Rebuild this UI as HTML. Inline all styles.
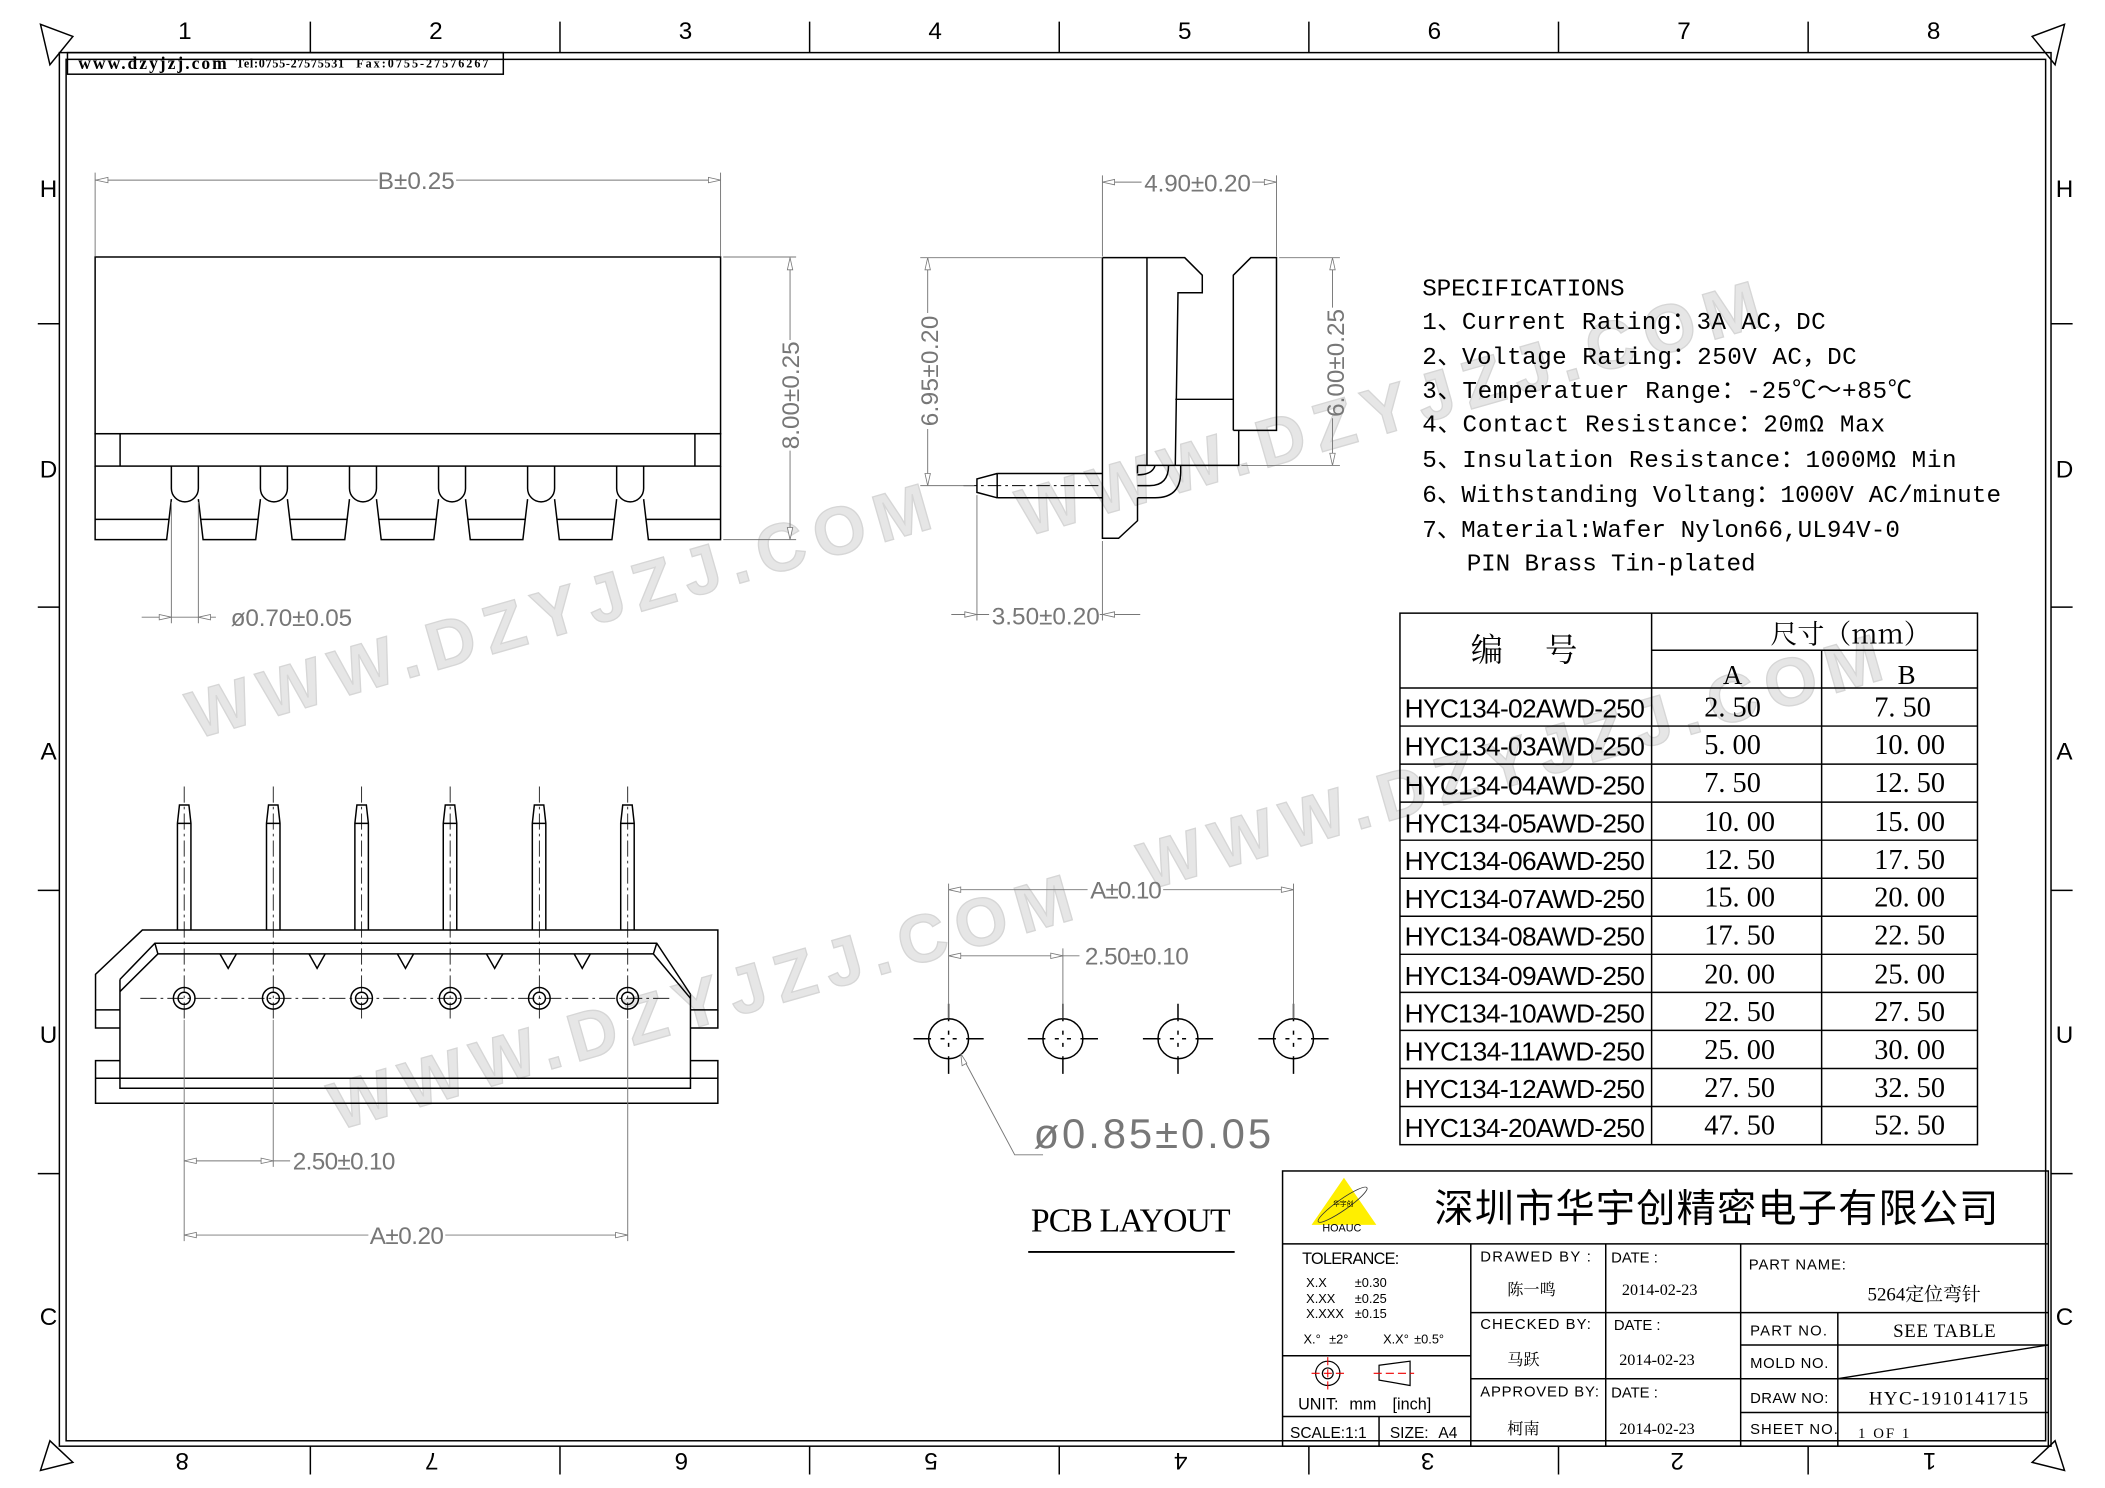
<!DOCTYPE html>
<html><head><meta charset="utf-8"><style>
html,body{margin:0;padding:0;background:#fff;}
svg{display:block;}
.k{stroke:#000;stroke-width:1.1;fill:none;}
.d{stroke:#777;stroke-width:0.7;fill:none;}
.dt{fill:#777;font-family:"Liberation Sans",sans-serif;font-size:18px;}
.ar{fill:#fff;stroke:#777;stroke-width:0.6;}
.r{font-family:"Liberation Sans",sans-serif;font-size:18px;fill:#000;}
.t{font-family:"Liberation Sans","Noto Sans CJK SC",sans-serif;font-size:11px;fill:#000;}
.s{font-family:"Liberation Serif","Noto Serif CJK SC",serif;font-size:12px;fill:#000;}
.wm{font-family:"Liberation Sans",sans-serif;font-weight:bold;font-size:50px;fill:#e6e6e6;stroke:#d6d6d6;stroke-width:1;letter-spacing:5px;}
</style></head><body>
<svg width="2105" height="1488" viewBox="0 0 1560 1103" preserveAspectRatio="none" xmlns="http://www.w3.org/2000/svg">
<rect width="1560" height="1103" fill="#fff"/>
<g>
<text class="wm" transform="translate(145,548) rotate(-16)" textLength="575">WWW.DZYJZJ.COM</text>
<text class="wm" transform="translate(250,838) rotate(-16)" textLength="575">WWW.DZYJZJ.COM</text>
<text class="wm" transform="translate(760,398) rotate(-16)" textLength="575">WWW.DZYJZJ.COM</text>
<text class="wm" transform="translate(850,660) rotate(-16)" textLength="575">WWW.DZYJZJ.COM</text>
</g>
<rect x="44" y="39" width="1476" height="1033" class="k" stroke-width="1.2"/>
<rect x="49" y="44" width="1467" height="1024" class="k" stroke-width="1.6"/>
<g class="r" text-anchor="middle">
<text x="137" y="29">1</text><text x="323" y="29">2</text><text x="508" y="29">3</text><text x="693" y="29">4</text><text x="878" y="29">5</text><text x="1063" y="29">6</text><text x="1248" y="29">7</text><text x="1433" y="29">8</text>
<text x="36" y="146">H</text><text x="36" y="354">D</text><text x="36" y="563">A</text><text x="36" y="773">U</text><text x="36" y="982">C</text>
<text x="1530" y="146">H</text><text x="1530" y="354">D</text><text x="1530" y="563">A</text><text x="1530" y="773">U</text><text x="1530" y="982">C</text>
<text transform="translate(135,1077) rotate(180)">8</text><text transform="translate(320,1077) rotate(180)">7</text><text transform="translate(505,1077) rotate(180)">6</text><text transform="translate(690,1077) rotate(180)">5</text><text transform="translate(875,1077) rotate(180)">4</text><text transform="translate(1058,1077) rotate(180)">3</text><text transform="translate(1243,1077) rotate(180)">2</text><text transform="translate(1430,1077) rotate(180)">1</text>
</g>
<g class="k">
<path d="M230 16V39M415 16V39M600 16V39M785 16V39M970 16V39M1155 16V39M1340 16V39"/>
<path d="M230 1072V1093M415 1072V1093M600 1072V1093M785 1072V1093M970 1072V1093M1155 1072V1093M1340 1072V1093"/>
<path d="M28 240H44M28 450H44M28 660H44M28 870H44M1520 240H1536M1520 450H1536M1520 660H1536M1520 870H1536"/>
<path d="M30 18L54 27L37 48Z"/><path d="M1530 18L1506 27L1523 48Z"/>
<path d="M37 1068L30 1090L54 1084Z"/><path d="M1523 1068L1530 1090L1506 1084Z"/>
</g>
<rect x="50" y="39" width="323" height="16" class="k"/>
<text x="58" y="51" font-family="Liberation Serif,serif" font-weight="bold" font-size="13" textLength="110">www.dzyjzj.com</text>
<text x="175" y="50" font-family="Liberation Serif,serif" font-weight="bold" font-size="9" textLength="80">Tel:0755-27575531</text>
<text x="264" y="50" font-family="Liberation Serif,serif" font-weight="bold" font-size="9" textLength="98">Fax:0755-27576267</text>

<!-- TOP VIEW -->
<g class="k">
<rect x="70.5" y="190.5" width="463.5" height="131"/>
<rect x="70.5" y="321.5" width="463.5" height="24"/>
<path d="M89 321.5V345.5M515 321.5V345.5"/>
<path d="M127 345.5V362A10 10 0 0 0 147 362V345.5"/>
<path d="M193 345.5V362A10 10 0 0 0 213 362V345.5"/>
<path d="M259 345.5V362A10 10 0 0 0 279 362V345.5"/>
<path d="M325 345.5V362A10 10 0 0 0 345 362V345.5"/>
<path d="M391 345.5V362A10 10 0 0 0 411 362V345.5"/>
<path d="M457 345.5V362A10 10 0 0 0 477 362V345.5"/>
<path d="M70.5 345.5V400H123.5L127 370"/><path d="M70.5 385H125"/>
<path d="M147 370L150.5 400H189.5L193 370M149 385H191"/>
<path d="M213 370L216.5 400H255.5L259 370M215 385H257"/>
<path d="M279 370L282.5 400H321.5L325 370M281 385H323"/>
<path d="M345 370L348.5 400H387.5L391 370M347 385H389"/>
<path d="M411 370L414.5 400H453.5L457 370M413 385H455"/>
<path d="M477 370L480.5 400H534V345.5M479 385H534"/>
</g>
<g class="d">
<path d="M70.5 128V190M534 128V190M70.5 133.5H280M338 133.5H534"/>
<path d="M536 190.5H590M536 400H590M585.5 191V252M585.5 334V400"/>
<path d="M127 372V462M147 372V462M105 457.5H160"/>
</g>
<g class="ar">
<path d="M71 133.5L80 131.5V135.5Z"/><path d="M534 133.5L525 131.5V135.5Z"/>
<path d="M585.5 191L583.5 200H587.5Z"/><path d="M585.5 400L583.5 391H587.5Z"/>
<path d="M127 457.5L118 455.5V459.5Z"/><path d="M147 457.5L156 455.5V459.5Z"/>
</g>
<text class="dt" x="280" y="140" textLength="57">B±0.25</text>
<text class="dt" transform="translate(592,333) rotate(-90)" textLength="80">8.00±0.25</text>
<text class="dt" x="171" y="464" textLength="90">ø0.70±0.05</text>

<!-- SIDE VIEW -->
<g class="k">
<path d="M817 191V399H829L843 386V369"/>
<path d="M843 351V345"/>
<path d="M817 191H878L891 204V217H873L871 345"/>
<path d="M850 191V345"/>
<path d="M871 296H914"/>
<path d="M914 319V204L927 191H946V319H914"/>
<path d="M918 319V345H843"/>
<path d="M739 351H817M739 369H817M739 351L724 355V365L739 369M739 351V369"/>
<path d="M843 369H856Q875 369 875 350V345"/>
<path d="M843 360H852Q866 360 866 345"/>
<path d="M843 352Q854 352 856 345"/>
</g>
<path d="M714 360H817" stroke="#000" stroke-width="0.7" stroke-dasharray="10 3 2 3"/>
<g class="d">
<path d="M817 130V190M946 130V190M817 135H846M928 135H946"/>
<path d="M682 191H817M682 360H722M687.5 191V232M687.5 318V360"/>
<path d="M948 191H993M920 345H993M987.5 191V228M987.5 310V345"/>
<path d="M724 367V460M817 401V460M705 455.5H733M815 455.5H845"/>
</g>
<g class="ar">
<path d="M817 135L826 133V137Z"/><path d="M946 135L937 133V137Z"/>
<path d="M687.5 191L685.5 200H689.5Z"/><path d="M687.5 360L685.5 351H689.5Z"/>
<path d="M987.5 191L985.5 200H989.5Z"/><path d="M987.5 345L985.5 336H989.5Z"/>
<path d="M724 455.5L715 453.5V457.5Z"/><path d="M817 455.5L826 453.5V457.5Z"/>
</g>
<text class="dt" x="848" y="142" textLength="79">4.90±0.20</text>
<text class="dt" transform="translate(695,316) rotate(-90)" textLength="82">6.95±0.20</text>
<text class="dt" transform="translate(996,309) rotate(-90)" textLength="80">6.00±0.25</text>
<text class="dt" x="735" y="463" textLength="80">3.50±0.20</text>

<!-- SPECIFICATIONS -->
<g font-family="Liberation Mono,'Noto Sans CJK SC',monospace" font-size="18" fill="#000">
<text x="1054" y="219" textLength="150">SPECIFICATIONS</text>
<text x="1054" y="244" textLength="299">1、Current Rating：3A AC，DC</text>
<text x="1054" y="270" textLength="322">2、Voltage Rating：250V AC，DC</text>
<text x="1054" y="295" textLength="363">3、Temperatuer Range：-25℃～+85℃</text>
<text x="1054" y="320" textLength="343">4、Contact Resistance：20mΩ Max</text>
<text x="1054" y="346" textLength="396">5、Insulation Resistance：1000MΩ Min</text>
<text x="1054" y="372" textLength="429">6、Withstanding Voltang：1000V AC/minute</text>
<text x="1054" y="398" textLength="354">7、Material:Wafer Nylon66,UL94V-0</text>
<text x="1087" y="423" textLength="214">PIN Brass Tin-plated</text>
</g>

<!-- TABLE -->
<g class="k" stroke-width="1.4">
<rect x="1037.5" y="454.5" width="428" height="394"/>
<path d="M1224 454.5V848.5M1350 482V848.5M1224 482H1465.5"/>
<path d="M1037.5 510H1465.5M1037.5 538.2H1465.5M1037.5 566.4H1465.5M1037.5 594.6H1465.5M1037.5 622.8H1465.5M1037.5 651H1465.5M1037.5 679.2H1465.5M1037.5 707.4H1465.5M1037.5 735.6H1465.5M1037.5 763.8H1465.5M1037.5 792H1465.5M1037.5 820.2H1465.5"/>
</g>
<g font-family="'Noto Serif CJK SC','Liberation Serif',serif" font-size="24" fill="#000">
<text x="1090" y="490">编</text><text x="1145" y="490">号</text>
<text x="1312" y="477" font-size="20">尺寸（mm）</text>
</g>
<g font-family="Liberation Serif,serif" font-size="20" fill="#000" text-anchor="middle">
<text x="1284" y="507">A</text><text x="1413" y="507">B</text>
</g>
<g font-family="Liberation Sans,sans-serif" font-size="19.5" fill="#000">
<text x="1041" y="532" textLength="178">HYC134-02AWD-250</text>
<text x="1041" y="560" textLength="178">HYC134-03AWD-250</text>
<text x="1041" y="589" textLength="178">HYC134-04AWD-250</text>
<text x="1041" y="617" textLength="178">HYC134-05AWD-250</text>
<text x="1041" y="645" textLength="178">HYC134-06AWD-250</text>
<text x="1041" y="673" textLength="178">HYC134-07AWD-250</text>
<text x="1041" y="701" textLength="178">HYC134-08AWD-250</text>
<text x="1041" y="730" textLength="178">HYC134-09AWD-250</text>
<text x="1041" y="758" textLength="178">HYC134-10AWD-250</text>
<text x="1041" y="786" textLength="178">HYC134-11AWD-250</text>
<text x="1041" y="814" textLength="178">HYC134-12AWD-250</text>
<text x="1041" y="843" textLength="178">HYC134-20AWD-250</text>
</g>
<g font-family="Liberation Serif,serif" font-size="21" fill="#000">
<text x="1263" y="531">2. 50</text><text x="1389" y="531">7. 50</text>
<text x="1263" y="559">5. 00</text><text x="1389" y="559">10. 00</text>
<text x="1263" y="587">7. 50</text><text x="1389" y="587">12. 50</text>
<text x="1263" y="616">10. 00</text><text x="1389" y="616">15. 00</text>
<text x="1263" y="644">12. 50</text><text x="1389" y="644">17. 50</text>
<text x="1263" y="672">15. 00</text><text x="1389" y="672">20. 00</text>
<text x="1263" y="700">17. 50</text><text x="1389" y="700">22. 50</text>
<text x="1263" y="729">20. 00</text><text x="1389" y="729">25. 00</text>
<text x="1263" y="757">22. 50</text><text x="1389" y="757">27. 50</text>
<text x="1263" y="785">25. 00</text><text x="1389" y="785">30. 00</text>
<text x="1263" y="813">27. 50</text><text x="1389" y="813">32. 50</text>
<text x="1263" y="841">47. 50</text><text x="1389" y="841">52. 50</text>
</g>

<!-- BOTTOM VIEW -->
<g class="k">
<path d="M131.5 689.4V610.3L133 596.7H140L141.5 610.3V689.4M131.5 610.3H141.5"/>
<path d="M197.5 689.4V610.3L199 596.7H206L207.5 610.3V689.4M197.5 610.3H207.5"/>
<path d="M263 689.4V610.3L264.5 596.7H271.5L273 610.3V689.4M263 610.3H273"/>
<path d="M328.5 689.4V610.3L330 596.7H337L338.5 610.3V689.4M328.5 610.3H338.5"/>
<path d="M394.5 689.4V610.3L396 596.7H403L404.5 610.3V689.4M394.5 610.3H404.5"/>
<path d="M460 689.4V610.3L461.5 596.7H468.5L470 610.3V689.4M460 610.3H470"/>
<path d="M70.8 748.6V722.2L105.5 689.4H532V748.6H511.7"/>
<path d="M70.8 748.6H88.9M70.8 748.6V762H88.9M532 748.6V762H511.7"/>
<path d="M88.9 786.2H70.8V817.8H532V786.2H511.7M70.8 799.3H532"/>
<path d="M88.9 726V806.7H511.7V737"/>
<path d="M88.9 726L114.8 699.2H486.7L511.7 737"/>
<path d="M114.8 699.2L117 707.1H484.2L486.7 699.2M117 707.1L88.9 735M484.2 707.1L511.7 740"/>
<path d="M163 707.1L169.1 717.8L175.2 707.1M229 707.1L235 717.8L241 707.1M294.5 707.1L300.5 717.8L306.5 707.1M360.5 707.1L366.6 717.8L372.7 707.1M425.5 707.1L431.5 717.8L437.5 707.1"/>
<circle cx="136.5" cy="740" r="8"/><circle cx="136.5" cy="740" r="4.5"/>
<circle cx="202.5" cy="740" r="8"/><circle cx="202.5" cy="740" r="4.5"/>
<circle cx="268" cy="740" r="8"/><circle cx="268" cy="740" r="4.5"/>
<circle cx="333.6" cy="740" r="8"/><circle cx="333.6" cy="740" r="4.5"/>
<circle cx="399.7" cy="740" r="8"/><circle cx="399.7" cy="740" r="4.5"/>
<circle cx="465.2" cy="740" r="8"/><circle cx="465.2" cy="740" r="4.5"/>
</g>
<g stroke="#000" stroke-width="0.6" stroke-dasharray="12 3 2 3" fill="none">
<path d="M104 740H497"/>
<path d="M136.5 583V756M202.5 583V756M268 583V756M333.6 583V756M399.7 583V756M465.2 583V756"/>
</g>
<g class="d">
<path d="M136.5 756V920M202.5 756V865M465.2 756V920"/>
<path d="M136.5 860.5H215M136.5 915.5H273M330 915.5H465.2"/>
</g>
<g class="ar">
<path d="M136.5 860.5L145.5 858.5V862.5Z"/><path d="M202.5 860.5L193.5 858.5V862.5Z"/>
<path d="M136.5 915.5L145.5 913.5V917.5Z"/><path d="M465.2 915.5L456.2 913.5V917.5Z"/>
</g>
<text class="dt" x="217" y="867" textLength="76">2.50±0.10</text>
<text class="dt" x="274" y="922" textLength="55">A±0.20</text>

<!-- PCB LAYOUT -->
<g class="k" stroke-width="1.2">
<circle cx="703" cy="770" r="14.8"/><circle cx="787.7" cy="770" r="14.8"/><circle cx="873" cy="770" r="14.8"/><circle cx="958.6" cy="770" r="14.8"/>
<path d="M677 770H690M716 770H729M703 744V757M703 783V796"/>
<path d="M761.7 770H774.7M800.7 770H813.7M787.7 744V757M787.7 783V796"/>
<path d="M847 770H860M886 770H899M873 744V757M873 783V796"/>
<path d="M932.6 770H945.6M971.6 770H984.6M958.6 744V757M958.6 783V796"/>
<path d="M697 770H700M706 770H709M703 764V767M703 773V776"/>
<path d="M781.7 770H784.7M790.7 770H793.7M787.7 764V767M787.7 773V776"/>
<path d="M867 770H870M876 770H879M873 764V767M873 773V776"/>
<path d="M952.6 770H955.6M961.6 770H964.6M958.6 764V767M958.6 773V776"/>
</g>
<g class="d">
<path d="M703 655V755M958.6 655V755M787.7 703V755"/>
<path d="M703 659.5H806M862 659.5H958.6M703 708.5H800"/>
<path d="M712 781L752 856H773"/>
</g>
<g class="ar">
<path d="M703 659.5L712 657.5V661.5Z"/><path d="M958.6 659.5L949.6 657.5V661.5Z"/>
<path d="M703 708.5L712 706.5V710.5Z"/><path d="M787.7 708.5L778.7 706.5V710.5Z"/>
<path d="M712 781L713 790L716.5 788Z"/>
</g>
<text class="dt" x="808" y="666" textLength="53">A±0.10</text>
<text class="dt" x="804" y="715" textLength="77">2.50±0.10</text>
<text class="dt" x="766" y="851" style="font-size:31px" textLength="176">ø0.85±0.05</text>
<text x="764" y="913" font-family="Liberation Serif,serif" font-size="25" fill="#000" textLength="148">PCB LAYOUT</text>
<path d="M762 928H915" stroke="#000" stroke-width="1.4"/>

<!-- TITLE BLOCK -->
<g class="k" stroke-width="1.3">
<rect x="950.5" y="868" width="567.5" height="204"/>
<path d="M950.5 922H1518"/>
<path d="M1090 922V1072M1190 922V1072M1290 922V1072M1362 973V1072"/>
<path d="M1090 973H1290M1090 1022H1290"/>
<path d="M1290 973H1518M1290 997H1518M1290 1022H1518M1290 1047H1518"/>
<path d="M950.5 1005H1090M950.5 1050H1090M1022 1050V1072"/>
<path d="M1362 1022L1518 997" stroke-width="1"/>
</g>
<path d="M996 873L1020 908H972Z" fill="#ffef00"/>
<ellipse cx="995" cy="893" rx="22" ry="4" transform="rotate(-35 995 893)" fill="none" stroke="#333" stroke-width="0.6"/>
<text x="988" y="894" font-size="5" font-family="'Noto Sans CJK SC',sans-serif" fill="#000">华宇创</text>
<text x="980" y="913" font-size="8" font-family="Liberation Sans,sans-serif" fill="#000">HOAUC</text>
<text x="1063" y="906" font-family="'Noto Sans CJK SC',sans-serif" font-size="29" fill="#000" textLength="418">深圳市华宇创精密电子有限公司</text>
<g class="t">
<text x="965" y="937" style="font-size:12px" textLength="72">TOLERANCE:</text>
<g style="font-size:9.5px">
<text x="968" y="954">X.X</text><text x="1004" y="954">±0.30</text>
<text x="968" y="966">X.XX</text><text x="1004" y="966">±0.25</text>
<text x="968" y="977">X.XXX</text><text x="1004" y="977">±0.15</text>
<text x="966" y="996">X.°</text><text x="985" y="996">±2°</text>
<text x="1025" y="996">X.X°</text><text x="1048" y="996">±0.5°</text>
</g>
<text x="962" y="1045" style="font-size:12px">UNIT:</text><text x="1000" y="1045" style="font-size:12px">mm</text><text x="1032" y="1045" style="font-size:12px">[inch]</text>
<text x="956" y="1066" style="font-size:11.5px">SCALE:1:1</text>
<text x="1030" y="1066" style="font-size:11.5px">SIZE:</text><text x="1066" y="1066" style="font-size:11.5px">A4</text>
<text x="1097" y="935" textLength="82">DRAWED  BY :</text>
<text x="1097" y="985" textLength="82">CHECKED  BY:</text>
<text x="1097" y="1035" textLength="88">APPROVED  BY:</text>
<text x="1194" y="936">DATE :</text>
<text x="1196" y="986">DATE :</text>
<text x="1194" y="1036">DATE :</text>
<text x="1296" y="941" textLength="72">PART  NAME:</text>
<text x="1297" y="990" textLength="57">PART  NO.</text>
<text x="1297" y="1014" textLength="58">MOLD  NO.</text>
<text x="1297" y="1040" textLength="58">DRAW  NO:</text>
<text x="1297" y="1063" textLength="65">SHEET  NO.</text>
</g>
<g class="s">
<text x="1117" y="960">陈一鸣</text>
<text x="1117" y="1012">马跃</text>
<text x="1117" y="1063">柯南</text>
<text x="1202" y="960">2014-02-23</text>
<text x="1200" y="1012">2014-02-23</text>
<text x="1200" y="1063">2014-02-23</text>
<text x="1384" y="964" style="font-size:14px">5264定位弯针</text>
<text x="1403" y="991" style="font-size:14px" textLength="76">SEE  TABLE</text>
<text x="1385" y="1041" style="font-size:14px" textLength="118">HYC-1910141715</text>
<text x="1377" y="1066" style="font-size:11px" textLength="38">1  OF  1</text>
</g>
<g stroke="#000" stroke-width="0.9" fill="none">
<circle cx="984" cy="1018" r="9"/><circle cx="984" cy="1018" r="4"/>
<path d="M1022 1012L1045 1009V1027L1022 1023Z"/>
</g>
<g stroke="#e00" stroke-width="0.8"><path d="M972 1018H996M984 1006V1030M1018 1018H1048" stroke-dasharray="6 3"/></g>
</svg>
</body></html>
